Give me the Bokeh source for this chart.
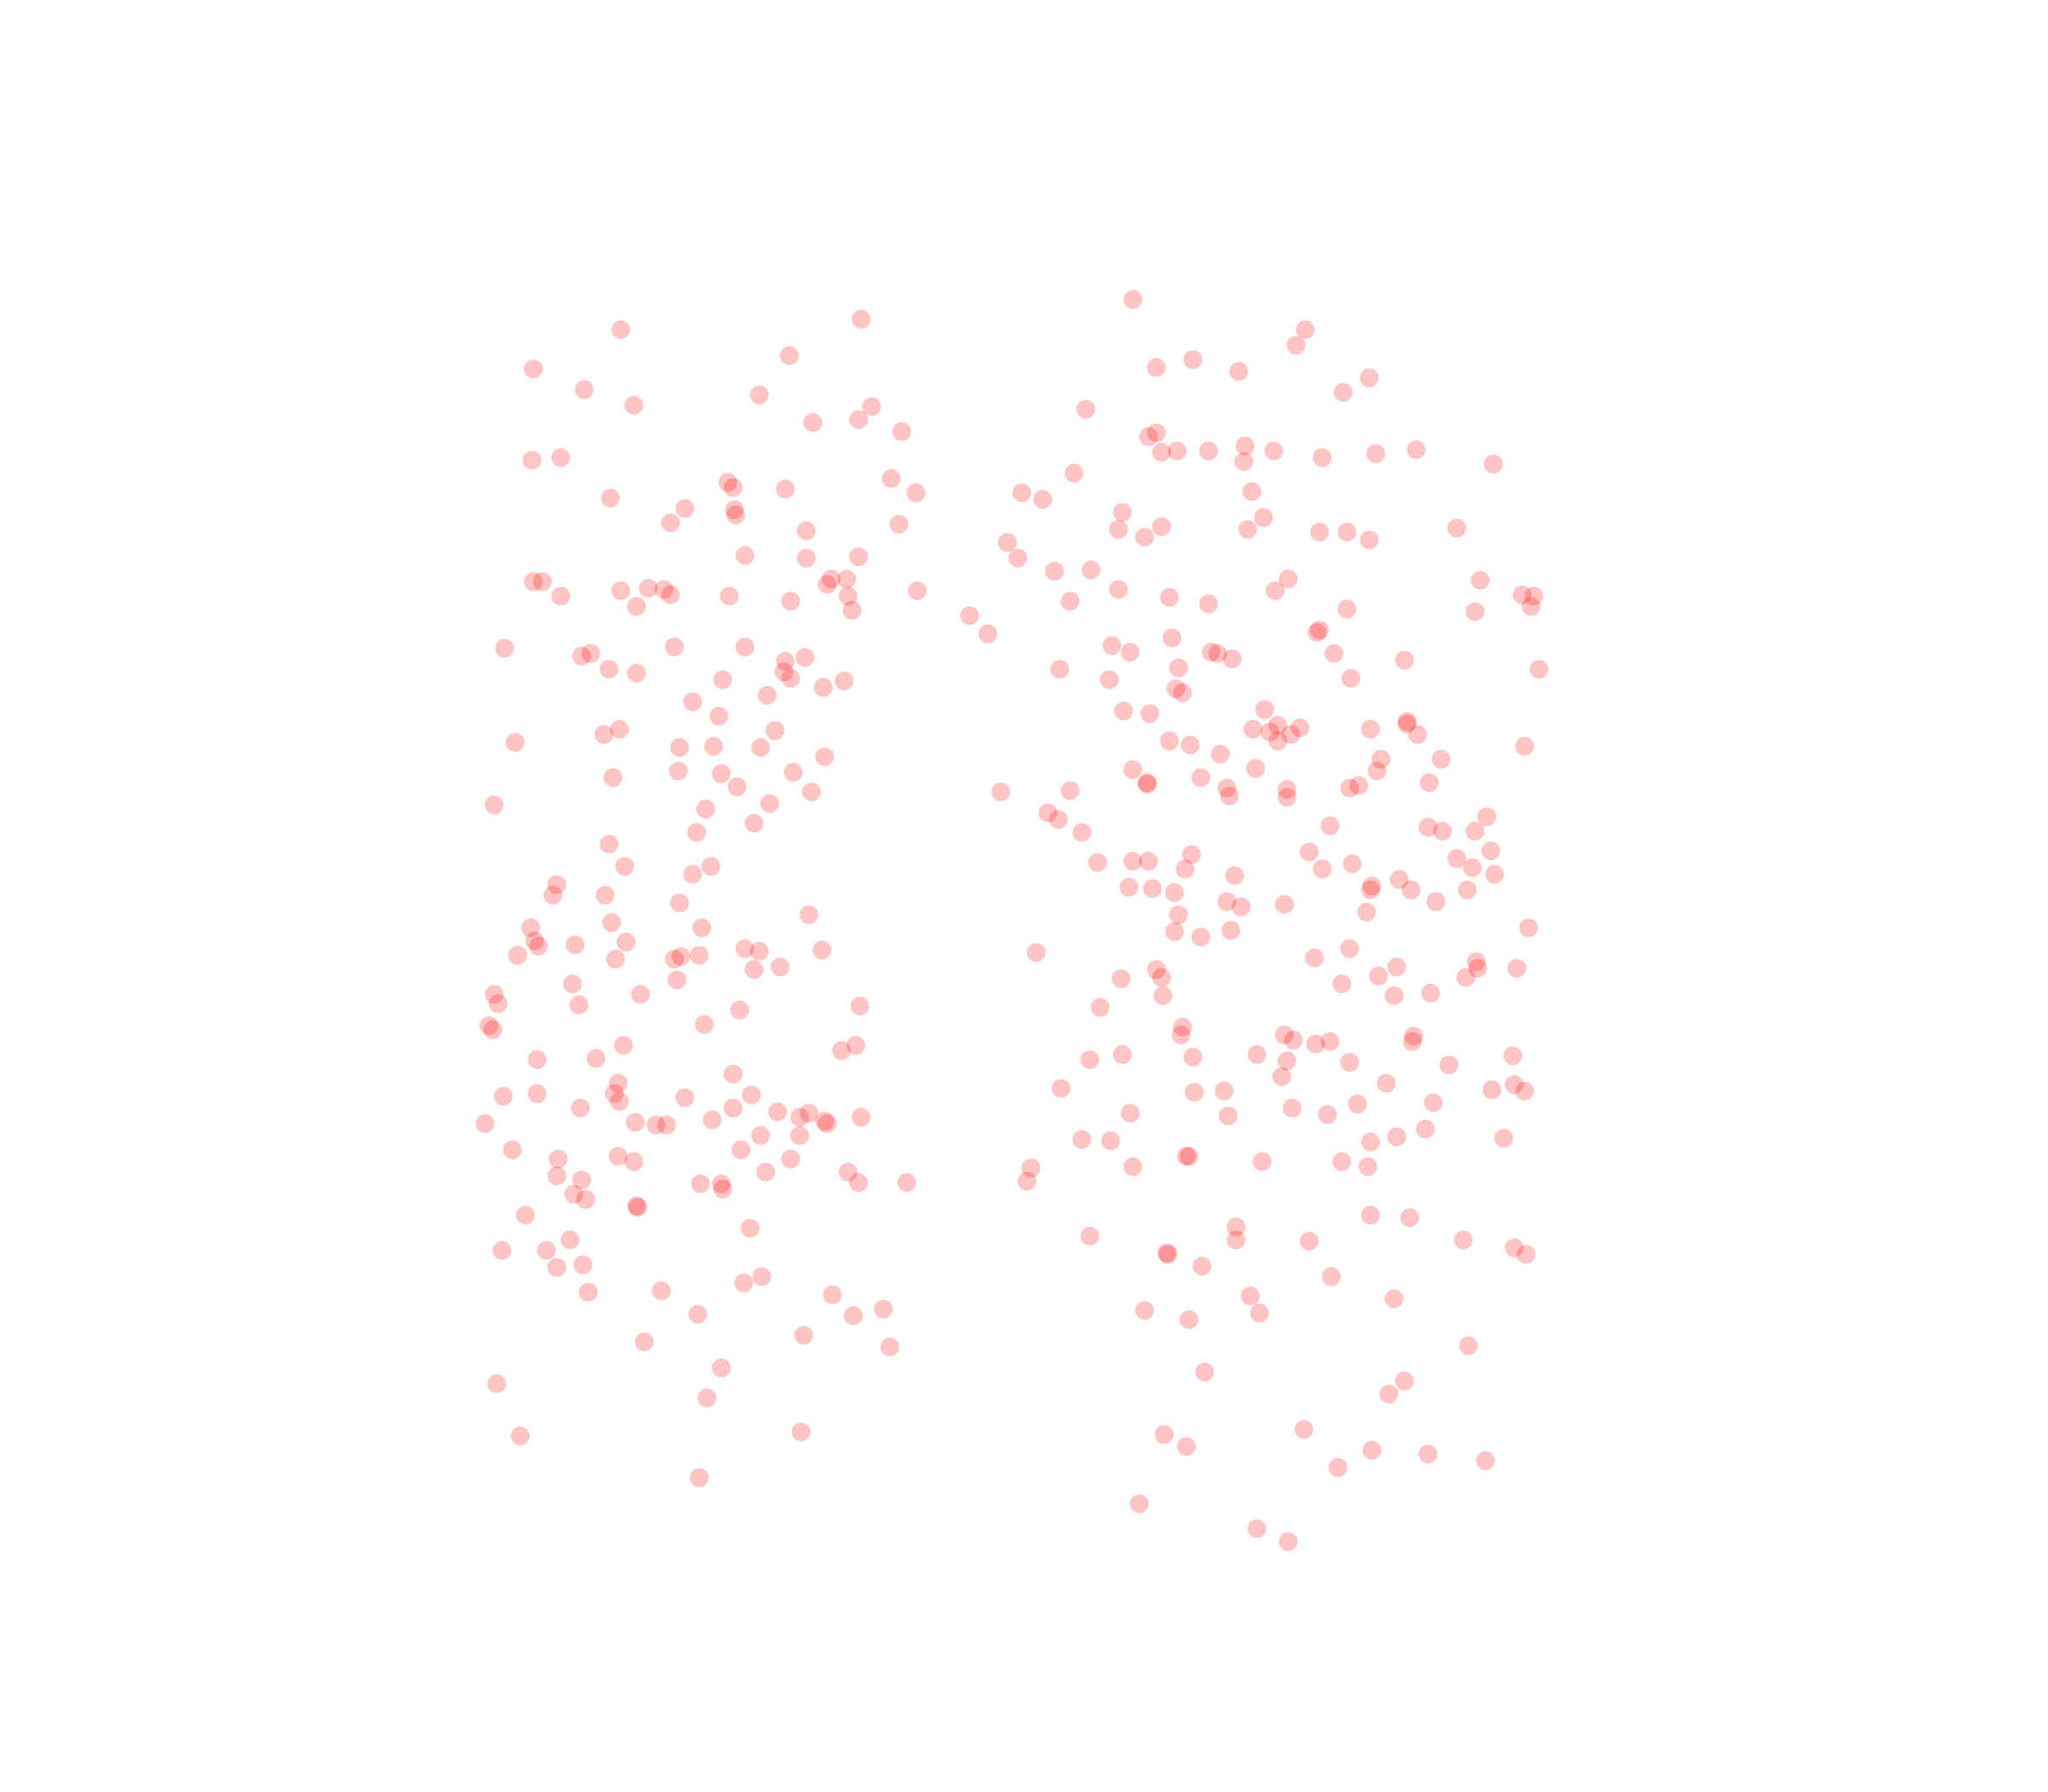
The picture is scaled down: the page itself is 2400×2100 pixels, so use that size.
from bokeh.plotting import figure
from bokeh.models import Range1d
from bokeh.embed import file_html
from bokeh.resources import INLINE

left_points = [
(475,252),(659,244),(604,272),(408,282),(447,298),(485,310),(581,302),(667,311),(657,321),(622,323),(690,330),
(407,352),(429,350),(557,369),(561,373),(601,374),(682,366),(701,377),(467,381),(524,389),(513,400),(562,390),(563,394),(688,401),(617,406),
(570,425),(617,427),(657,426),(408,445),(415,445),(429,456),(475,452),(496,450),(508,451),(513,455),(487,464),(558,456),(605,460),(636,443),(633,447),(648,443),(649,456),(652,467),(702,452),
(386,496),(445,502),(452,500),(466,512),(487,515),(516,495),(570,495),(601,506),(616,503),(600,514),(605,519),(553,520),(530,537),(587,532),(630,526),(646,521),(550,548),
(394,568),(462,562),(474,558),(520,572),(546,571),(582,572),(593,559),(631,579),(519,590),(469,595),(552,592),(564,602),(607,591),(621,606),(378,616),(540,619),(589,615),(533,637),(577,630),
(466,646),(478,663),(530,669),(544,663),(426,677),(423,685),(463,685),(520,691),(468,706),(537,710),(619,700),(406,710),(409,720),(412,724),(396,731),(440,723),(479,721),(471,734),(516,734),(521,732),(535,731),(570,726),(581,728),(577,742),(597,740),(629,727),
(438,753),(518,750),(378,761),(381,768),(443,769),(490,761),(566,773),(658,770),(374,785),(377,788),(539,784),(477,800),(644,804),(655,800),(411,811),(456,810),(561,822),(473,829),(470,837),(474,843),(385,839),(411,837),(524,840),(575,838),(444,848),(561,848),(595,851),(619,852),(612,855),(631,858),(633,860),(659,855),
(371,860),(486,859),(502,861),(510,861),(545,857),(582,869),(612,869),(392,880),(567,880),(427,887),(473,885),(485,889),(605,887),(586,897),(649,897),(426,900),(445,903),(536,906),(552,906),(553,910),(657,905),(694,905),(439,914),(448,918),(487,923),(488,924),(402,930),(574,940),
(436,949),(384,957),(418,957),(426,970),(446,968),(569,982),(583,977),(450,989),(506,988),(637,991),(534,1006),(653,1007),(676,1002),(615,1022),(493,1027),(681,1031),(552,1047),(380,1059),(541,1070),(398,1099),(613,1096),(535,1131),
]

right_points = [
(867,229),(999,252),(992,264),(913,275),(885,281),(948,284),(1048,289),(1028,300),(831,313),(879,334),(885,331),(889,346),(901,345),(925,345),(953,341),(952,353),(975,345),(1012,350),(1053,347),(1084,344),(1143,355),(822,362),(782,377),(798,382),(958,376),(859,392),(856,405),(889,403),(876,411),(955,405),(967,396),(1010,407),(1031,407),(1048,413),(1115,404),(771,415),(779,427),(807,437),(835,436),(856,451),(819,460),(895,457),(925,462),(976,452),(986,443),(1133,444),(1165,455),(1174,456),(1172,464),(1129,468),(1031,466),(742,471),(756,485),(1010,482),(1008,484),(897,488),(851,494),(865,499),(927,499),(932,500),(943,504),(1021,500),(1075,505),(1178,512),(811,512),(902,511),(849,520),(1034,519),(900,527),(905,530),(860,544),(880,546),(968,543),(978,555),(959,558),(972,560),(988,562),(995,557),(978,567),(1049,558),(1077,552),(1077,554),(1085,562),(895,567),(911,570),(934,577),(1167,571),(1057,581),(1103,581),(867,589),(961,588),(919,595),(878,599),(878,600),(1054,590),(1094,599),(1033,603),(1040,601),(939,603),(941,609),(985,604),(985,610),(766,606),(819,605),(802,622),(810,627),(828,637),(1018,632),(1093,633),(1104,636),(1129,636),(1138,625),
(840,660),(867,659),(879,659),(912,654),(907,665),(945,670),(1002,652),(1012,665),(1035,661),(1115,657),(1127,664),(1141,651),(1144,669),(864,679),(882,680),(899,683),(1050,678),(1049,681),(1071,673),(1080,681),(1123,681),(939,690),(950,694),(983,692),(1046,698),(1099,690),(902,700),(899,713),(942,712),(919,717),(1170,710),(793,729),(1033,726),(1006,733),(885,742),(889,748),(858,749),(1130,736),(1131,741),(1161,741),(1122,748),(1069,740),(1055,747),(1027,753),(1095,760),(1067,762),(890,762),(842,771),
(905,786),(904,792),(983,792),(990,796),(1007,799),(1018,797),(1082,793),(1081,797),(859,807),(913,809),(962,807),(985,812),(834,811),(1033,813),(1109,815),(1158,808),(981,824),(1061,829),(812,833),(914,836),(937,835),(1142,834),(1159,830),(1167,835),(1039,845),(1097,844),(989,848),(865,852),(940,854),(1016,853),(1091,864),(828,872),(850,873),(1069,870),(1049,874),(1151,871),(908,885),(910,885),(867,893),(966,889),(1027,889),(1047,893),(789,894),(786,904),(1049,930),(1079,932),(946,939),(946,949),(1002,950),(1120,949),(834,946),(893,959),(894,960),(1159,955),(1168,960),(920,969),(1019,977),(957,992),(1067,994),(876,1003),(964,1005),(910,1010),(1124,1030),(922,1050),(1075,1057),(1063,1067),(891,1098),(998,1094),(908,1107),(1050,1110),(1093,1113),(1137,1118),(1024,1123),(872,1151),(962,1170),(986,1180),
]

x = [pt[0] for pt in left_points + right_points]
y = [pt[1] for pt in left_points + right_points]

k = 2400 / 1568
p = figure(width=2384, height=2084, output_backend="svg", toolbar_location=None,
           x_range=Range1d(0, 2384 / k), y_range=Range1d(2084 / k, 0),
           min_border=0, outline_line_color=None, background_fill_color="white",
           border_fill_color="white")
p.axis.visible = False
p.grid.visible = False
p.scatter(x, y, size=22, marker="circle", fill_color="#ff0000", fill_alpha=0.23, line_color=None)

open("out.html", "w").write(file_html(p, INLINE))
